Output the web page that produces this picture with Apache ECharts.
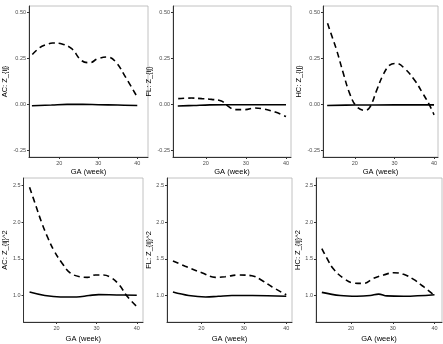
<!DOCTYPE html>
<html>
<head>
<meta charset="utf-8">
<script src="https://cdn.jsdelivr.net/npm/echarts@6/dist/echarts.min.js"></script>
<style>
  html, body { margin: 0; padding: 0; background: #fff; }
  #chart { width: 443px; height: 344px; }
</style>
</head>
<body>
<div id="chart"></div>
<script>
// ---- data (GA in weeks) ----
const panelNames = ['AC: Z_{ij}', 'FL: Z_{ij}', 'HC: Z_{ij}', 'AC: Z_{ij}^2', 'FL: Z_{ij}^2', 'HC: Z_{ij}^2']
const xTicks = [20, 30, 40]
const yTicksTop = [-0.25, 0, 0.25, 0.5]
const yTicksBottom = [1.0, 1.5, 2.0, 2.5]

// AC Z_ij
const acDashX = [13.1, 15, 16.5, 18.3, 20.7, 23.2, 25.7, 27.8, 29.9, 32.4, 34.5, 37, 40]
const acDashY = [0.273, 0.31, 0.325, 0.335, 0.33, 0.304, 0.24, 0.228, 0.25, 0.259, 0.232, 0.15, 0.041]
const acSolidX = [13, 18, 22, 26, 30, 35, 40]
const acSolidY = [-0.006, -0.002, 0.002, 0.002, 0, -0.002, -0.004]

// FL Z_ij
const flDashX = [13.1, 16.4, 19, 21.4, 23.9, 25.6, 27.3, 29.8, 32.3, 34.8, 37.3, 40]
const flDashY = [0.033, 0.036, 0.033, 0.029, 0.02, -0.009, -0.027, -0.027, -0.018, -0.025, -0.04, -0.064]
const flSolidX = [13, 17, 21, 25, 30, 35, 40]
const flSolidY = [-0.007, -0.004, -0.001, 0, 0, 0, 0]

// HC Z_ij
const hcDashX = [13.1, 14.1, 15.4, 17.1, 18.7, 20.4, 22.5, 23.8, 25.5, 27.1, 28.8, 30.5, 32.6, 35.1, 37.2, 38.9, 40]
const hcDashY = [0.442, 0.378, 0.296, 0.169, 0.06, -0.009, -0.031, -0.013, 0.078, 0.16, 0.215, 0.224, 0.196, 0.133, 0.06, -0.004, -0.055]
const hcSolidX = [13, 20, 30, 40]
const hcSolidY = [-0.004, -0.002, -0.001, -0.001]

// AC Z_ij^2
const ac2DashX = [13.3, 14.7, 16.3, 17.9, 19.4, 21.4, 23.4, 25.8, 27.7, 29.7, 31.7, 33.7, 35.7, 37.6, 40]
const ac2DashY = [2.474, 2.25, 1.996, 1.78, 1.61, 1.44, 1.31, 1.256, 1.248, 1.28, 1.28, 1.24, 1.14, 0.99, 0.85]
const ac2SolidX = [13.3, 17.1, 21, 25, 28.1, 30.5, 35, 40]
const ac2SolidY = [1.047, 1.0, 0.98, 0.98, 1.0, 1.013, 1.008, 1.004]

// FL Z_ij^2
const fl2DashX = [13.3, 16.2, 20.1, 23.3, 25.6, 28.8, 31.9, 34.3, 36.6, 40]
const fl2DashY = [1.47, 1.40, 1.31, 1.248, 1.256, 1.28, 1.27, 1.205, 1.12, 1.01]
const fl2SolidX = [13.3, 17, 21, 24, 27.2, 32, 40]
const fl2SolidY = [1.047, 1.0, 0.98, 0.99, 1.0, 1.0, 0.99]

// HC Z_ij^2
const hc2DashX = [13, 14.2, 15.8, 18.2, 20.6, 23, 25.4, 27.8, 30.2, 32.6, 35, 37.4, 39.8]
const hc2DashY = [1.64, 1.51, 1.36, 1.235, 1.17, 1.165, 1.235, 1.28, 1.31, 1.29, 1.22, 1.12, 1.01]
const hc2SolidX = [13, 17.4, 21.4, 24.6, 26.6, 28.6, 32.6, 40]
const hc2SolidY = [1.043, 1.0, 0.99, 1.0, 1.02, 0.995, 0.99, 1.01]

const dashed = [[acDashX, acDashY], [flDashX, flDashY], [hcDashX, hcDashY], [ac2DashX, ac2DashY], [fl2DashX, fl2DashY], [hc2DashX, hc2DashY]]
const solid = [[acSolidX, acSolidY], [flSolidX, flSolidY], [hcSolidX, hcSolidY], [ac2SolidX, ac2SolidY], [fl2SolidX, fl2SolidY], [hc2SolidX, hc2SolidY]]

// ---- layout (px) ----
const grids = [
  { left: 26, width: 122, top: 6, height: 151 },
  { left: 173, width: 118, top: 6, height: 151 },
  { left: 323, width: 115, top: 6, height: 151 },
  { left: 18, width: 125, top: 178, height: 153 },
  { left: 167, width: 125, top: 178, height: 153 },
  { left: 316, width: 126, top: 178, height: 153 },
]
const xRange = [[12.25, 42.75], [11.8, 41.25], [11.95, 41.0], [11.8, 41.55], [11.9, 41.35], [11.6, 41.8]]
const yNameGap = [20, 20, 20, 13, 13, 13]
const xNameGap = [11, 11, 11, 13, 13, 13]

const pair = (xs, ys) => xs.map((x, i) => [x, ys[i]])

const tickLabel = { color: '#4d4d4d', fontSize: 5.5, fontFamily: 'Liberation Sans', margin: 3 }
const nameStyle = { color: '#000', fontSize: 7.5, fontFamily: 'Liberation Sans' }

const chart = echarts.init(document.getElementById('chart'), null, { renderer: 'canvas' })

const option = {
  backgroundColor: '#fff',
  animation: false,
  grid: grids.map((g) => ({ ...g, show: true, borderColor: '#b3b3b3', borderWidth: 0.8, backgroundColor: 'transparent' })),
  xAxis: grids.map((g, i) => ({
    type: 'value',
    gridIndex: i,
    min: xRange[i][0],
    max: xRange[i][1],
    name: 'GA (week)',
    nameLocation: 'middle',
    nameGap: xNameGap[i],
    nameTextStyle: nameStyle,
    axisLine: { show: true, onZero: false, lineStyle: { color: '#333', width: 1 } },
    axisTick: { show: true, customValues: xTicks, length: 2, lineStyle: { color: '#333' } },
    axisLabel: { ...tickLabel, customValues: xTicks, formatter: (v) => String(v) },
    splitLine: { show: false },
  })),
  yAxis: grids.map((g, i) => {
    const top = i < 3
    const ticks = top ? yTicksTop : yTicksBottom
    return {
      type: 'value',
      gridIndex: i,
      min: top ? -0.284 : 0.64,
      max: top ? 0.536 : 2.6,
      name: panelNames[i],
      nameLocation: 'middle',
      nameGap: yNameGap[i],
      nameTextStyle: nameStyle,
      axisLine: { show: true, onZero: false, lineStyle: { color: '#333', width: 1 } },
      axisTick: { show: true, customValues: ticks, length: 2, lineStyle: { color: '#333' } },
      axisLabel: { ...tickLabel, customValues: ticks, formatter: (v) => top ? v.toFixed(2) : v.toFixed(1) },
      splitLine: { show: false },
    }
  }),
  series: [
    ...solid.map((d, i) => ({
      type: 'line',
      xAxisIndex: i,
      yAxisIndex: i,
      data: pair(d[0], d[1]),
      smooth: 0.4,
      showSymbol: false,
      lineStyle: { color: '#000', width: 1.6 },
    })),
    ...dashed.map((d, i) => ({
      type: 'line',
      xAxisIndex: i,
      yAxisIndex: i,
      data: pair(d[0], d[1]),
      smooth: 0.4,
      showSymbol: false,
      lineStyle: { color: '#000', width: 1.6, type: [6, 4] },
    })),
  ],
}

chart.setOption(option)
</script>
</body>
</html>
